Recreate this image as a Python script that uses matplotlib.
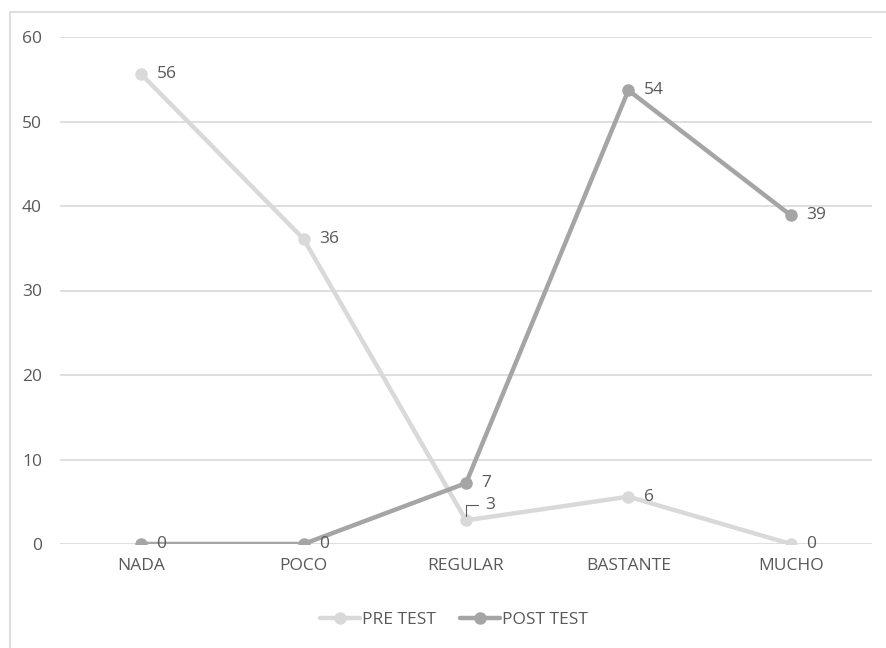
import matplotlib
matplotlib.use("Agg")
import matplotlib.pyplot as plt
from matplotlib.patches import Rectangle
from matplotlib import font_manager

categories = ["NADA", "POCO", "REGULAR", "BASTANTE", "MUCHO"]
pre_test = [55.6, 36.1, 2.8, 5.6, 0.0]
post_test = [0.0, 0.0, 7.2, 53.7, 38.9]
series_names = ["PRE TEST", "POST TEST"]
y_ticks = [0, 10, 20, 30, 40, 50, 60]

available = {f.name for f in font_manager.fontManager.ttflist}
family = "Liberation Sans Narrow" if "Liberation Sans Narrow" in available else "Open Sans"
plt.rcParams["font.family"] = [family, "DejaVu Sans"]

TEXT = "#595959"
GRID = "#D9D9D9"
PRE_C = "#D9D9D9"
POST_C = "#A5A5A5"

fig = plt.figure(figsize=(8.86, 6.48), dpi=100)
fig.patch.set_facecolor("white")

# chart frame (runs past the right/bottom edges of the canvas)
fig.patches.append(Rectangle((10 / 886, -0.1), 1.2, 1 - 12 / 648 + 0.1,
                             transform=fig.transFigure, fill=False,
                             edgecolor=GRID, linewidth=1.2))

ax = fig.add_axes([60 / 886, 1 - 544 / 648, (872 - 60) / 886, (544 - 37) / 648])
x = list(range(len(categories)))

ax.plot(x, pre_test, color=PRE_C, lw=3.2, marker="o", ms=8,
        solid_capstyle="round", label=series_names[0], zorder=3)
ax.plot(x, post_test, color=POST_C, lw=3.2, marker="o", ms=8,
        solid_capstyle="round", label=series_names[1], zorder=4)

ax.set_xlim(-0.5, len(categories) - 0.5)
ax.set_ylim(0, 60)
ax.set_yticks(y_ticks)
ax.set_xticks(x)
ax.set_xticklabels(categories)
ax.tick_params(axis="both", length=0, labelsize=12.5, colors=TEXT)
ax.tick_params(axis="y", pad=13)
ax.tick_params(axis="x", pad=10)
ax.grid(axis="y", color=GRID, lw=1.2)
ax.set_axisbelow(True)
for s in ax.spines.values():
    s.set_visible(False)

# data labels
for xi, v in zip(x, pre_test):
    if xi == 2:
        continue
    ax.annotate(f"{v:.0f}", (xi, v), xytext=(11, 0), textcoords="offset points",
                ha="left", va="center", fontsize=12.5, color=TEXT, zorder=6)
for xi, v in zip(x, post_test):
    ax.annotate(f"{v:.0f}", (xi, v), xytext=(11, 0), textcoords="offset points",
                ha="left", va="center", fontsize=12.5, color=TEXT, zorder=6)

# REGULAR pre-test label with its leader line
xi, v = 2, pre_test[2]
ax.annotate(f"{v:.0f}", (xi, v), xytext=(14, 11), textcoords="offset points",
            ha="left", va="center", fontsize=12.5, color=TEXT, zorder=6,
            arrowprops=dict(arrowstyle="-", color=TEXT, lw=0.8,
                            connectionstyle="angle,angleA=0,angleB=90,rad=0",
                            shrinkA=3, shrinkB=3))

leg = fig.legend(loc="center", bbox_to_anchor=(454 / 886, 1 - 620 / 648), ncol=2,
                 frameon=False, fontsize=12.5, handlelength=2.3,
                 handletextpad=0.1, columnspacing=1.4)
for t in leg.get_texts():
    t.set_color(TEXT)

fig.savefig("out.png", dpi=100, facecolor="white")
